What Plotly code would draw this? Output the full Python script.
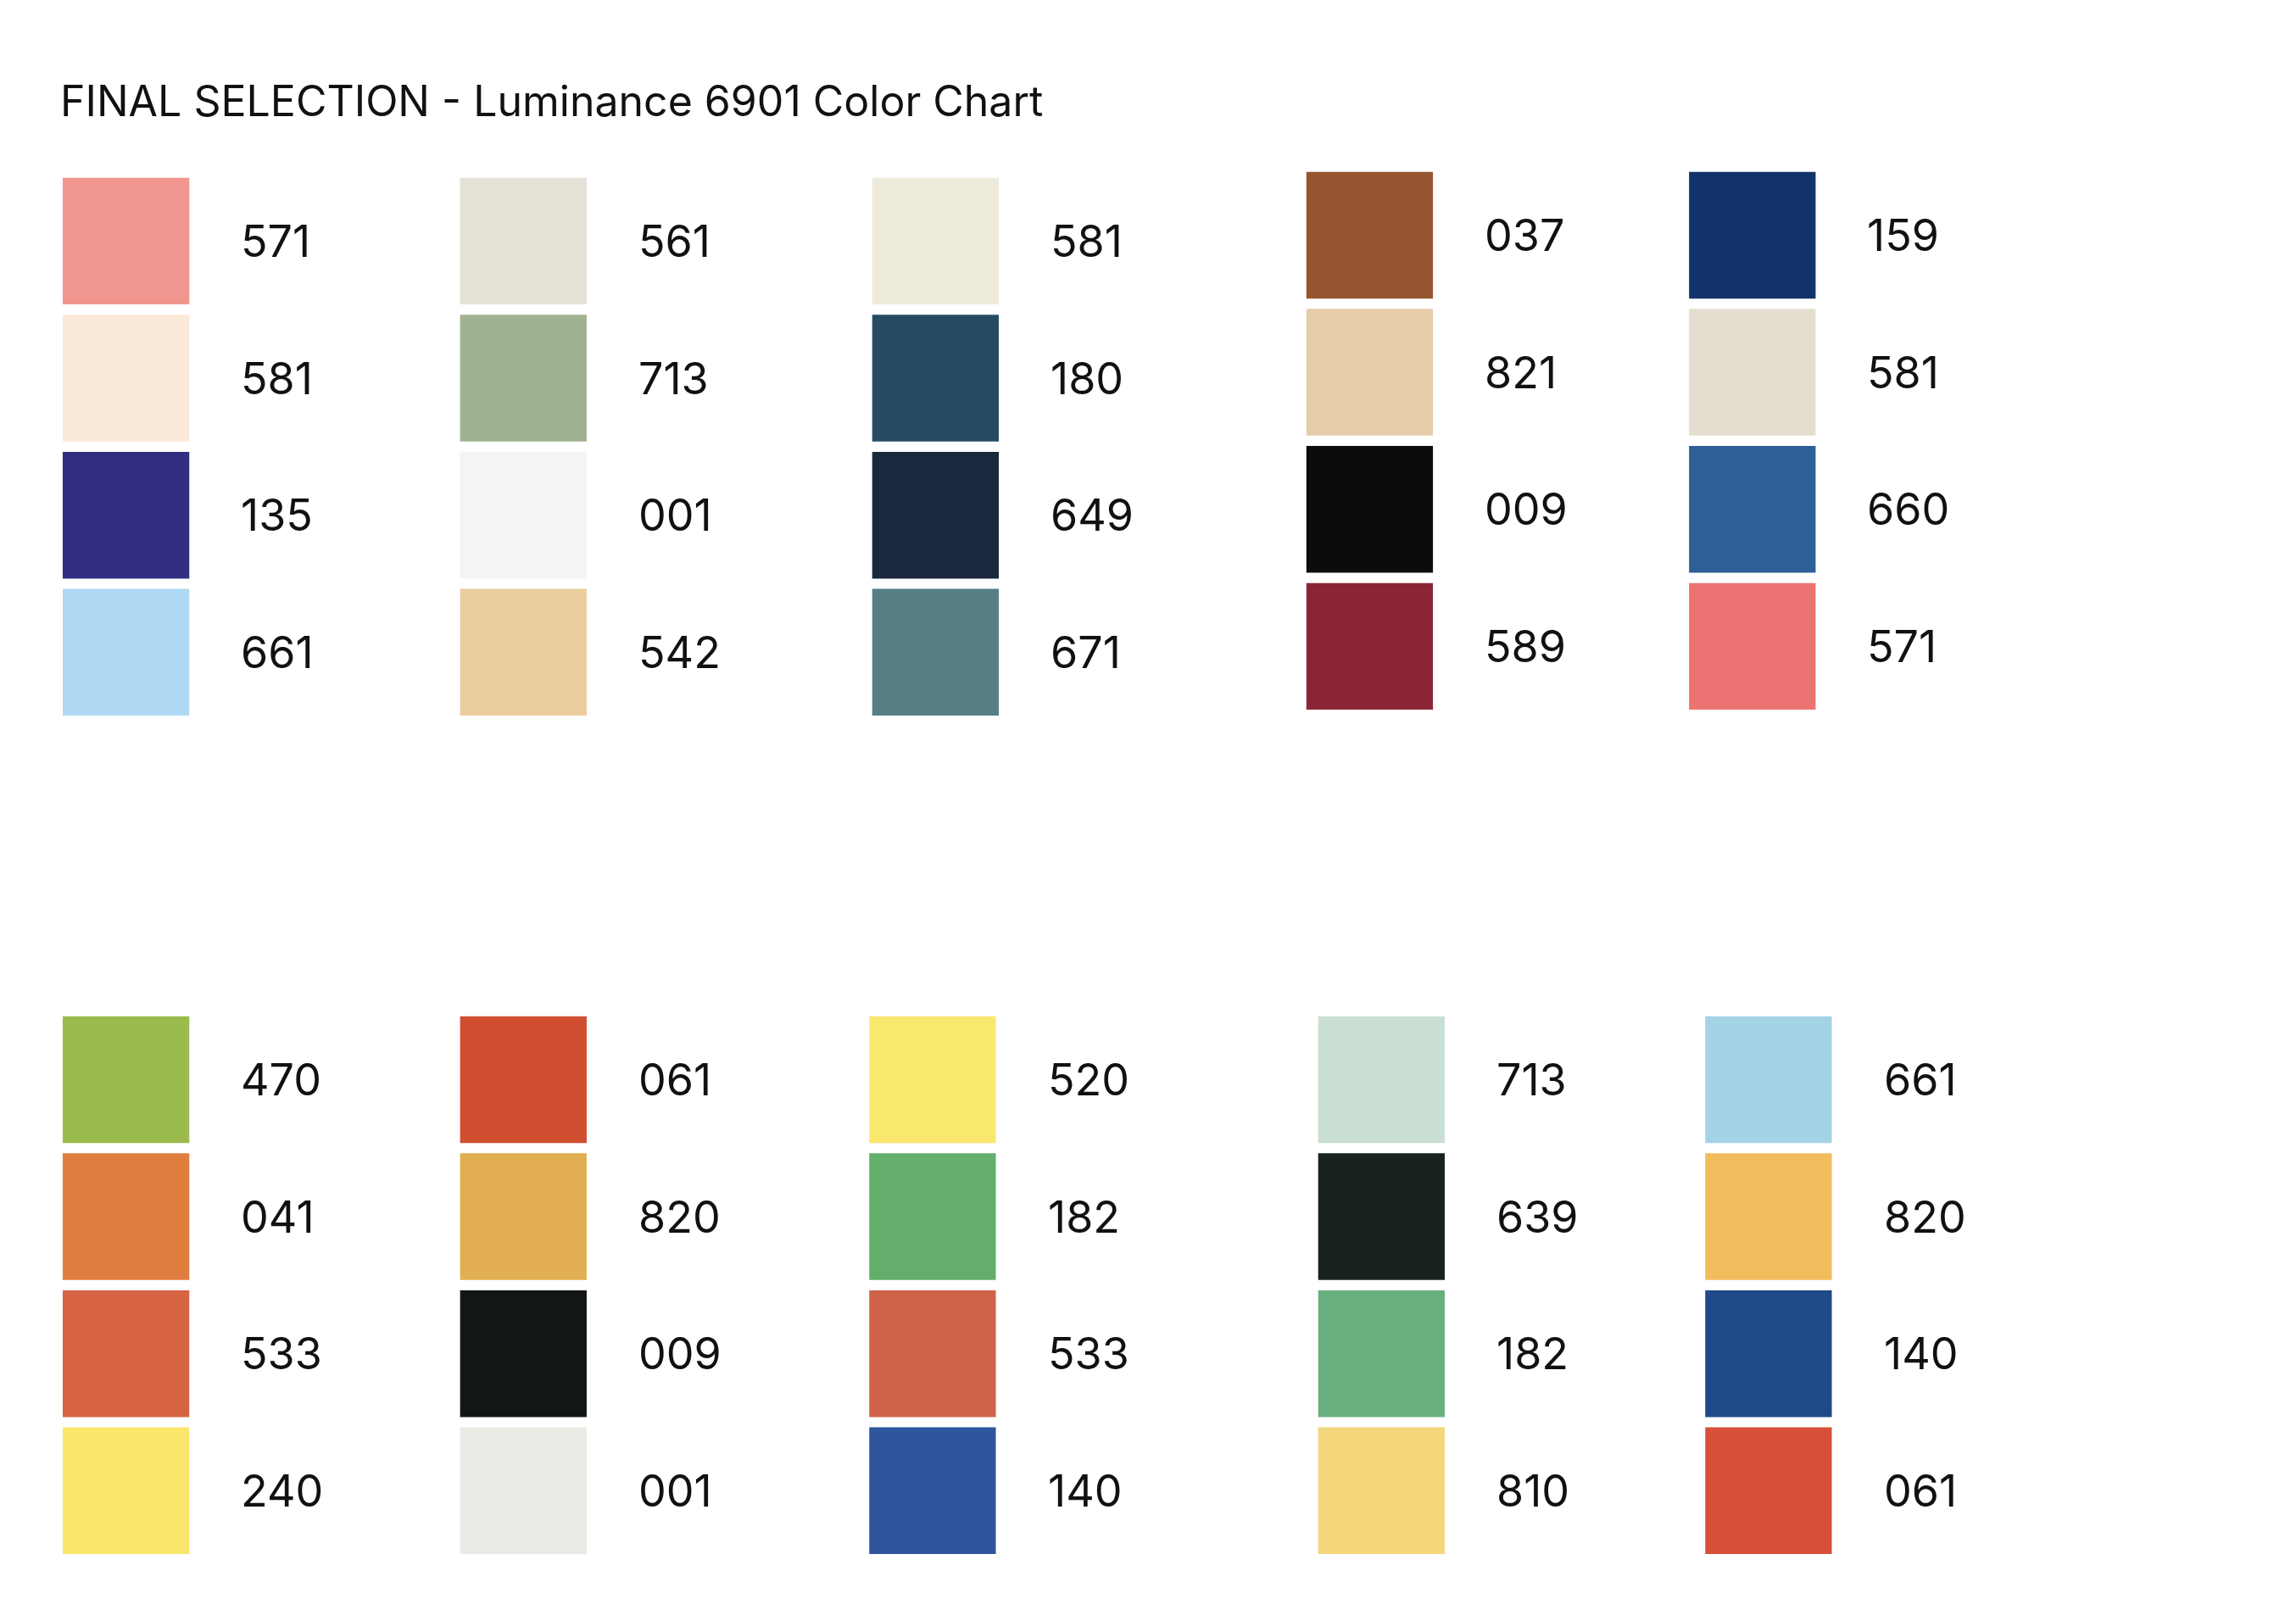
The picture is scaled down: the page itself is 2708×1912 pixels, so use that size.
import plotly.graph_objects as go

# ── datos: códigos y colores por columna ─────────────────────────
top_codes = [
    ["571", "581", "135", "661"],
    ["561", "713", "001", "542"],
    ["581", "180", "649", "671"],
    ["037", "821", "009", "589"],
    ["159", "581", "660", "571"],
]
top_colors = [
    ["#F0968E", "#FBE9DA", "#312E82", "#AED8F3"],
    ["#E6E1D6", "#A0B28F", "#F5F3F3", "#EBCD9D"],
    ["#EFEBDC", "#254B63", "#1A273D", "#567F84"],
    ["#95562F", "#E5CDA9", "#0D0C0A", "#8A2535"],
    ["#12326A", "#E5DDD0", "#2E5F97", "#EB7472"],
]
bottom_codes = [
    ["470", "041", "533", "240"],
    ["061", "820", "009", "001"],
    ["520", "182", "533", "140"],
    ["713", "639", "182", "810"],
    ["661", "820", "140", "061"],
]
bottom_colors = [
    ["#9CBB4D", "#E07E3F", "#D66342", "#F9E66A"],
    ["#D04F31", "#E1AF51", "#121713", "#EBEBE5"],
    ["#FAE76E", "#64AE6C", "#D0624A", "#2F559C"],
    ["#C9DFD3", "#1A2221", "#69B07E", "#F3D57A"],
    ["#A5D3E6", "#F1BD5C", "#1F4989", "#D85039"],
]

# ── disposición ───────────────────────────────────────────────────
TOP_X = [38, 308, 588, 883, 1143]
TOP_Y = [116, 116, 116, 112, 112]
BOT_X = [38, 308, 586, 891, 1154]
BOT_Y = [685] * 5
SIZE, STEP, LABEL_DX = 86, 93, 120
FONT = "Inter, Liberation Sans, sans-serif"

fig = go.Figure()
shapes, annotations = [], []

blocks = [(top_codes, top_colors, TOP_X, TOP_Y),
          (bottom_codes, bottom_colors, BOT_X, BOT_Y)]
for codes, colors, xs, ys in blocks:
    for c, (col_codes, col_colors) in enumerate(zip(codes, colors)):
        for r, (code, color) in enumerate(zip(col_codes, col_colors)):
            x0 = xs[c]
            y0 = ys[c] + r * STEP
            shapes.append(dict(type="rect", xref="x", yref="y",
                               x0=x0, x1=x0 + SIZE, y0=y0, y1=y0 + SIZE,
                               fillcolor=color, line=dict(width=0)))
            annotations.append(dict(x=x0 + LABEL_DX, y=y0 + SIZE / 2,
                                    xref="x", yref="y", text=code,
                                    showarrow=False, xanchor="left",
                                    yanchor="middle",
                                    font=dict(size=52, color="#111", family=FONT)))

annotations.append(dict(x=35, y=64, xref="x", yref="y",
                        text="FINAL SELECTION - Luminance 6901 Color Chart",
                        showarrow=False, xanchor="left", yanchor="middle",
                        font=dict(size=50, color="#111", family=FONT)))

fig.update_layout(
    width=2708, height=1912,
    margin=dict(l=0, r=0, t=0, b=0),
    plot_bgcolor="white", paper_bgcolor="white",
    shapes=shapes, annotations=annotations,
    xaxis=dict(range=[0, 1560], visible=False, fixedrange=True),
    yaxis=dict(range=[1100, 0], visible=False, fixedrange=True),
    showlegend=False,
)

fig.write_html("out.html")
